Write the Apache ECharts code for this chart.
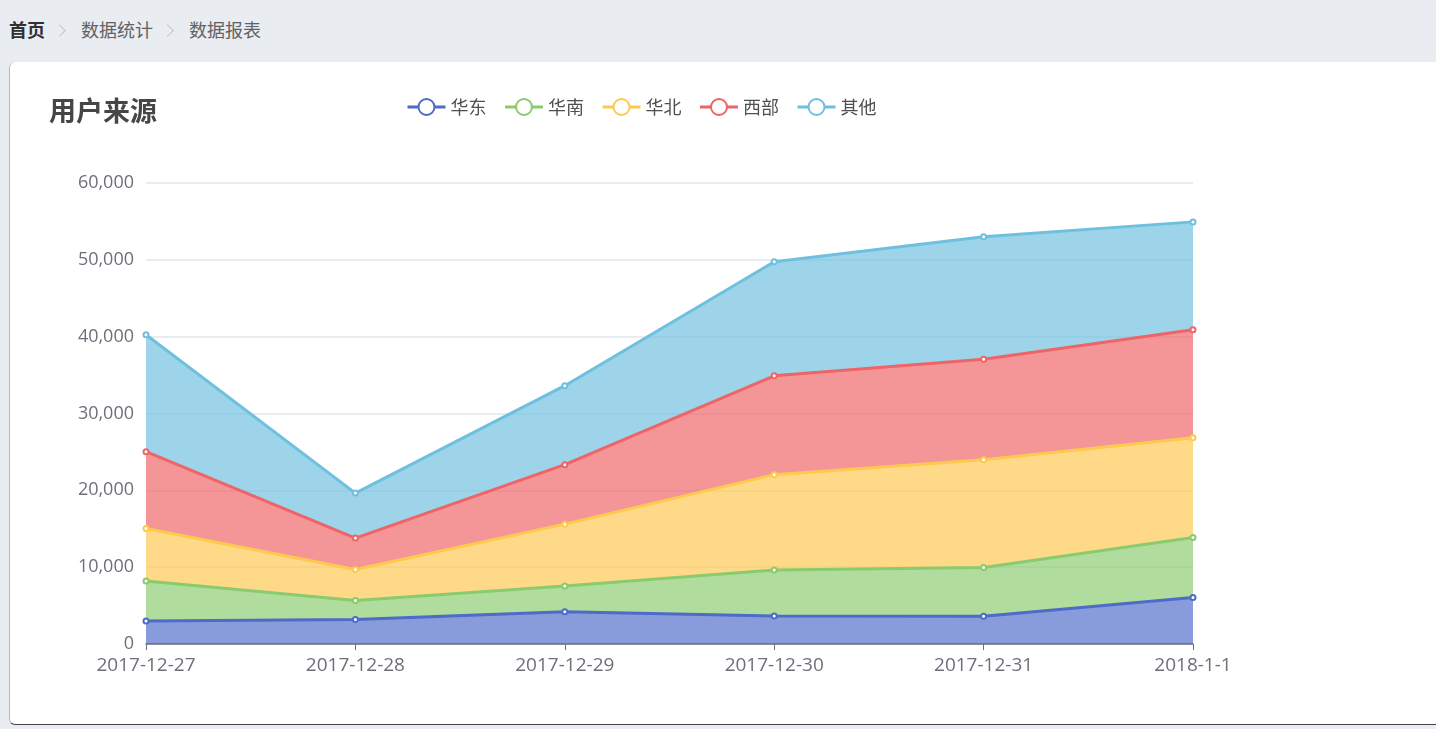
<!DOCTYPE html>
<html>
<head>
<meta charset="utf-8">
<script src="https://cdn.jsdelivr.net/npm/echarts@6/dist/echarts.min.js"></script>
<style>
  html, body { margin: 0; height: 100%; overflow: hidden; background: #e9ecf1; font-family: "Noto Sans CJK SC", sans-serif; }
  .crumb { position: absolute; left: 9px; top: 17px; font-size: 18px; line-height: 24px; color: #606266; white-space: nowrap; }
  .crumb b { color: #303133; font-weight: 700; }
  .crumb i { display: inline-block; width: 8px; height: 8px; margin: 0 17px 2px 10px; border-top: 1px solid #c0c4cc; border-right: 1px solid #c0c4cc; transform: rotate(45deg); }
  .card { position: absolute; left: 9px; top: 62px; width: 1440px; height: 662.5px; background: #fff; border-radius: 6px 0 0 6px; border-left: 1px solid #b5b7ba; border-bottom: 1.5px solid #45474c; box-sizing: border-box; }
  #main { position: absolute; left: 0; top: 0; width: 1436px; height: 729px; }
</style>
</head>
<body>
<div class="crumb"><b>首页</b><i></i>数据统计<i></i>数据报表</div>
<div class="card"></div>
<div id="main"></div>
<script>
const dates = ['2017-12-27', '2017-12-28', '2017-12-29', '2017-12-30', '2017-12-31', '2018-1-1'];
const east = [3000, 3200, 4200, 3650, 3600, 6050];
const south = [5190, 2460, 3340, 5970, 6350, 7800];
const north = [6830, 4030, 8060, 12420, 14040, 13000];
const west = [10010, 4090, 7740, 12860, 13070, 14050];
const other = [15220, 5860, 10280, 14840, 15940, 14040];

const names = ['华东', '华南', '华北', '西部', '其他'];
const values = [east, south, north, west, other];

const chart = echarts.init(document.getElementById('main'));
chart.setOption({
  animation: false,
  color: ['#4f6bc8', '#8acb6e', '#fdc94f', '#ef6466', '#6fc0de'],
  title: {
    text: '用户来源',
    left: 49,
    top: 97,
    padding: 0,
    textStyle: { fontSize: 27, fontWeight: 'bold', color: '#464646', fontFamily: 'Noto Sans CJK SC' }
  },
  legend: {
    left: 406,
    top: 98,
    padding: 0,
    itemWidth: 38,
    itemHeight: 20,
    itemGap: 17,
    data: names,
    lineStyle: { width: 3 },
    itemStyle: { borderWidth: 4 },
    textStyle: { fontSize: 18, color: '#505050', fontFamily: 'Noto Sans CJK SC' }
  },
  grid: { left: 146, right: 243, top: 183, bottom: 85 },
  xAxis: {
    type: 'category',
    boundaryGap: false,
    data: dates,
    axisLine: { lineStyle: { color: '#6e7079', width: 1.5 } },
    axisTick: { lineStyle: { color: '#6e7079' }, length: 6 },
    axisLabel: { fontSize: 19, color: '#6e7079', margin: 12, fontFamily: 'Open Sans', interval: 0, hideOverlap: false }
  },
  yAxis: {
    type: 'value',
    min: 0,
    max: 60000,
    interval: 10000,
    axisLine: { show: false },
    axisTick: { show: false },
    axisLabel: {
      fontSize: 18,
      color: '#6e7079',
      margin: 12,
      padding: [0, 0, 3, 0],
      fontFamily: 'Open Sans',
      formatter: v => v.toLocaleString('en-US')
    },
    splitLine: { lineStyle: { color: '#e0e4ec', width: 1.5 } }
  },
  series: names.map((name, i) => ({
    name,
    type: 'line',
    stack: 'total',
    data: values[i],
    symbol: 'emptyCircle',
    symbolSize: 5,
    lineStyle: { width: 3 },
    itemStyle: { borderWidth: 3 },
    areaStyle: { opacity: 0.68 },
    z: 10 - i
  }))
});
</script>
</body>
</html>
